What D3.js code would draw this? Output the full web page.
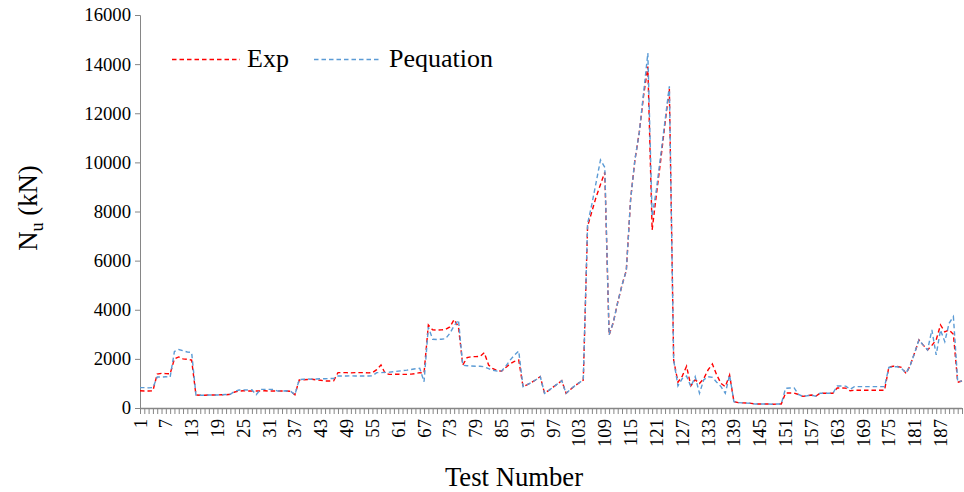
<!DOCTYPE html>
<html>
<head>
<meta charset="utf-8">
<script src="https://cdn.jsdelivr.net/npm/d3@7/dist/d3.min.js"></script>
<style>
  html, body { margin: 0; padding: 0; background: #fff; }
  svg { display: block; }
</style>
</head>
<body>
<svg id="chart" width="964" height="492"></svg>
<script>
// ---- data (test 1 .. 192) ----
const expValues = [
  700, 690, 690, 700, 1380, 1410, 1400, 1390, 2000, 2080,
  2000, 1980, 1950, 530, 520, 520, 530, 530, 530, 540,
  540, 560, 650, 690, 700, 690, 690, 690, 690, 700,
  690, 690, 690, 690, 690, 680, 540, 1140, 1150, 1160,
  1170, 1140, 1130, 1100, 1100, 1110, 1440, 1440, 1440, 1430,
  1440, 1440, 1440, 1430, 1440, 1560, 1750, 1400, 1370, 1370,
  1380, 1370, 1370, 1380, 1400, 1440, 1420, 3380, 3180, 3170,
  3180, 3200, 3300, 3600, 3300, 1750, 2050, 2090, 2090, 2100,
  2250, 1750, 1600, 1520, 1500, 1650, 1800, 1900, 1950, 870,
  950, 1050, 1150, 1280, 600, 720, 850, 980, 1110, 600,
  750, 900, 1020, 1140, 7400, 8000, 8600, 9100, 9600, 2970,
  3500, 4300, 5000, 5600, 8500, 10100, 11200, 12700, 13900, 7250,
  8700, 10100, 11600, 13000, 1950, 1050, 1300, 1700, 900, 1150,
  1000, 1200, 1550, 1790, 1350, 1000, 870, 1340, 260, 220,
  210, 200, 190, 160, 160, 160, 160, 150, 160, 160,
  610, 610, 610, 550, 475, 500, 530, 475, 600, 600,
  600, 600, 815, 815, 810, 700, 720, 720, 720, 720,
  720, 720, 720, 720, 1660, 1700, 1690, 1650, 1400, 1750,
  2250, 2770, 2560, 2360, 2550, 2770, 3380, 3100, 3180, 3000,
  1050, 1100
];
const peqValues = [
  830, 830, 820, 830, 1260, 1260, 1270, 1260, 2300, 2380,
  2330, 2280, 2260, 530, 520, 520, 530, 530, 530, 540,
  550, 560, 680, 730, 740, 730, 740, 540, 760, 760,
  760, 750, 690, 690, 700, 680, 540, 1160, 1170, 1180,
  1170, 1180, 1190, 1190, 1200, 1200, 1300, 1300, 1300, 1310,
  1300, 1300, 1300, 1300, 1310, 1440, 1440, 1450, 1460, 1480,
  1500, 1520, 1540, 1570, 1600, 1620, 1070, 3290, 2800, 2790,
  2800, 2820, 3040, 3350, 3580, 1740, 1720, 1710, 1700, 1700,
  1680, 1600, 1540, 1500, 1500, 1700, 1950, 2150, 2320, 870,
  950, 1050, 1150, 1280, 600, 720, 850, 980, 1110, 600,
  750, 900, 1020, 1140, 7500, 8300, 9200, 10100, 9800, 2970,
  3500, 4300, 5000, 5600, 8500, 10100, 11200, 12800, 14450, 7800,
  8900, 10300, 11700, 13100, 1950, 900, 1200, 1300, 870, 1275,
  600, 1150, 1275, 1250, 1050, 870, 600, 1340, 260, 220,
  210, 200, 190, 160, 160, 160, 160, 150, 160, 160,
  800, 815, 815, 550, 475, 500, 530, 475, 600, 600,
  600, 600, 895, 895, 890, 760, 870, 870, 870, 870,
  870, 870, 870, 870, 1650, 1680, 1680, 1600, 1420, 1750,
  2250, 2770, 2560, 2360, 3176, 2160, 3176, 2700, 3450, 3720,
  1070, 1100
];
const testNumbers = expValues.map((_, i) => i + 1);
const xTickLabels = [1, 7, 13, 19, 25, 31, 37, 43, 49, 55, 61, 67, 73, 79, 85, 91, 97, 103, 109, 115, 121, 127, 133, 139, 145, 151, 157, 163, 169, 175, 181, 187];
const yTicks = [0, 2000, 4000, 6000, 8000, 10000, 12000, 14000, 16000];
const seriesNames = ["Exp", "Pequation"];
const seriesColors = ["#ff0000", "#5b9bd5"];

// ---- layout ----
const FONT = "Liberation Serif";
const svg = d3.select("#chart");
const plotLeft = 140, plotRight = 962, plotTop = 15, plotBottom = 408;
const axisColor = "#868686";

const x = d3.scaleLinear().domain([1, testNumbers.length]).range([plotLeft, plotRight]);
const y = d3.scaleLinear().domain([0, 16000]).range([plotBottom, plotTop]);

// y axis
const yAxis = d3.axisLeft(y).tickValues(yTicks).tickSize(5).tickPadding(4).tickFormat(d3.format("d"));
const gy = svg.append("g").attr("transform", `translate(${plotLeft},0)`).call(yAxis);
gy.select(".domain").attr("stroke", axisColor).attr("stroke-width", 1);
gy.selectAll(".tick line").attr("stroke", axisColor);
gy.selectAll(".tick text").style("font-family", FONT).style("font-size", "18.7px").attr("fill", "#000");

// x axis: tick at every category, labels every 6
const xAxis = d3.axisBottom(x).tickValues(testNumbers).tickSize(6).tickFormat("");
const gx = svg.append("g").attr("transform", `translate(0,${plotBottom})`).call(xAxis);
gx.select(".domain").attr("stroke", axisColor).attr("stroke-width", 1.3).attr("d", `M${plotLeft},0.5H${plotRight}`);
gx.selectAll(".tick line").attr("stroke", axisColor);

svg.append("g").selectAll("text").data(xTickLabels).join("text")
  .attr("transform", d => `translate(${x(d) + 6.5},${plotBottom + 11}) rotate(-90)`)
  .attr("text-anchor", "end")
  .style("font-family", FONT).style("font-size", "18.7px")
  .text(d => d);

// lines
const line = d3.line().x((d, i) => x(testNumbers[i])).y(d => y(d));
[expValues, peqValues].forEach((vals, k) => {
  svg.append("path")
    .datum(vals)
    .attr("fill", "none")
    .attr("stroke", seriesColors[k])
    .attr("stroke-width", 1.4)
    .attr("stroke-dasharray", "4.5,3")
    .attr("d", line);
});

// legend
const legendItems = [
  { x1: 172, x2: 240, tx: 247 },
  { x1: 314, x2: 381, tx: 389 }
];
legendItems.forEach((it, k) => {
  svg.append("line").attr("x1", it.x1).attr("x2", it.x2).attr("y1", 59.5).attr("y2", 59.5)
    .attr("stroke", seriesColors[k]).attr("stroke-width", 1.4).attr("stroke-dasharray", "4.5,3");
  svg.append("text").attr("x", it.tx).attr("y", 67)
    .style("font-family", FONT).style("font-size", "26px").text(seriesNames[k]);
});

// axis titles
svg.append("text").attr("x", 514).attr("y", 486).attr("text-anchor", "middle")
  .style("font-family", FONT).style("font-size", "26.7px").text("Test Number");
const yt = svg.append("text").attr("transform", "translate(37,208) rotate(-90)").attr("text-anchor", "middle")
  .style("font-family", FONT).style("font-size", "26.7px");
yt.append("tspan").text("N");
yt.append("tspan").style("font-size", "18px").attr("dy", 6).text("u");
yt.append("tspan").attr("dy", -6).text(" (kN)");
</script>
</body>
</html>
